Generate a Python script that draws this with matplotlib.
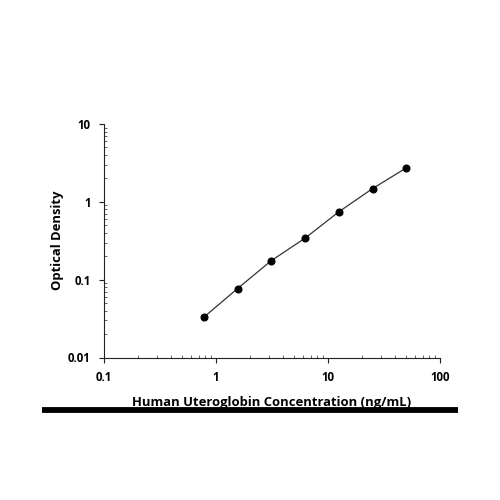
import matplotlib
matplotlib.use("Agg")
import matplotlib.pyplot as plt
from matplotlib.ticker import LogLocator, FixedLocator, FixedFormatter, NullFormatter
from matplotlib.lines import Line2D

plt.rcParams['font.family'] = ['Open Sans', 'DejaVu Sans']

conc = [0.78, 1.56, 3.125, 6.25, 12.5, 25, 50]
od = [0.033, 0.077, 0.176, 0.342, 0.745, 1.48, 2.73]
x_ticks = [0.1, 1, 10, 100]
x_tick_labels = ["0.1", "1", "10", "100"]
y_ticks = [0.01, 0.1, 1, 10]
y_tick_labels = ["0.01", "0.1", "1", "10"]

fig = plt.figure(figsize=(5, 5), dpi=100)
ax = fig.add_axes([0.208, 0.285, 0.672, 0.467])
ax.set_xscale('log')
ax.set_yscale('log')
ax.set_xlim(0.1, 100)
ax.set_ylim(0.01, 10)

ax.plot(conc, od, color='#333333', lw=0.9, marker='o', markersize=4.8,
        markerfacecolor='black', markeredgecolor='black', zorder=3)

for s in ['top', 'right']:
    ax.spines[s].set_visible(False)
for s in ['left', 'bottom']:
    ax.spines[s].set_linewidth(0.8)
    ax.spines[s].set_color('#222222')

ax.xaxis.set_major_locator(FixedLocator(x_ticks))
ax.xaxis.set_major_formatter(FixedFormatter(x_tick_labels))
ax.yaxis.set_major_locator(FixedLocator(y_ticks))
ax.yaxis.set_major_formatter(FixedFormatter(y_tick_labels))
ax.xaxis.set_minor_locator(LogLocator(base=10, subs=range(2, 10)))
ax.yaxis.set_minor_locator(LogLocator(base=10, subs=range(2, 10)))
ax.xaxis.set_minor_formatter(NullFormatter())
ax.yaxis.set_minor_formatter(NullFormatter())

ax.tick_params(which='major', direction='out', length=3.5, width=0.8, color='#222222',
               labelsize=8.3, pad=6)
ax.tick_params(which='minor', direction='in', length=2.5, width=0.5, color='#222222')
for lab in ax.get_xticklabels() + ax.get_yticklabels():
    lab.set_fontweight('bold')

ax.set_xlabel('Human Uteroglobin Concentration (ng/mL)', fontsize=9.4, fontweight='bold', labelpad=9)
ax.set_ylabel('Optical Density', fontsize=9.4, fontweight='bold', labelpad=3)

fig.add_artist(Line2D([0.084, 0.916], [0.181, 0.181], transform=fig.transFigure,
                      color='black', lw=4.2, solid_capstyle='butt'))

fig.savefig('out.png', dpi=100, facecolor='white')
